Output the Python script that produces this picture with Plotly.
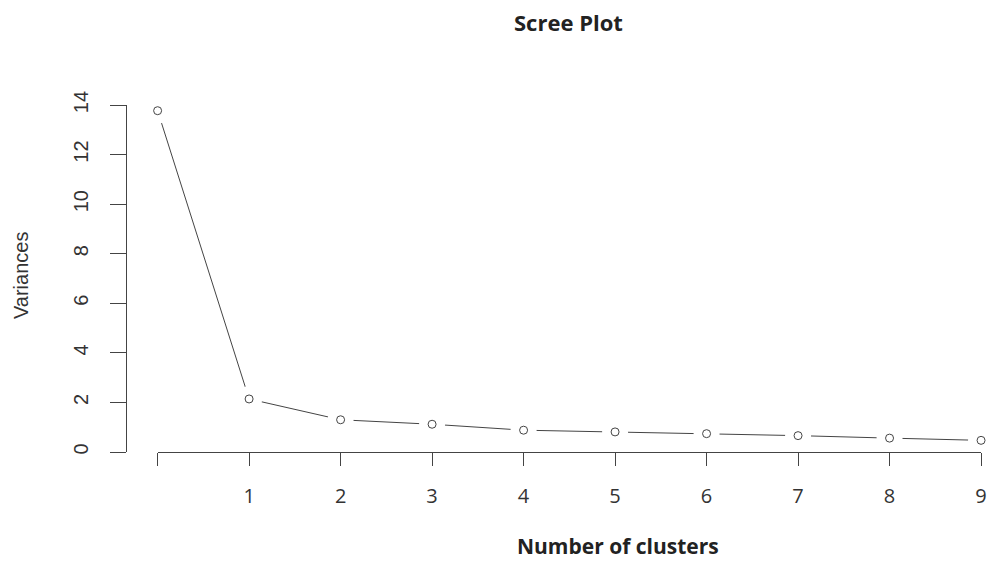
import plotly.graph_objects as go

# ---- data ----
components = [0, 1, 2, 3, 4, 5, 6, 7, 8, 9]
variances = [13.77, 2.14, 1.30, 1.12, 0.88, 0.81, 0.74, 0.66, 0.56, 0.47]
x_tick_labels = ["", "1", "2", "3", "4", "5", "6", "7", "8", "9"]
y_tick_values = [0, 2, 4, 6, 8, 10, 12, 14]

title_text = "Scree Plot"
x_title = "Number of clusters"
y_title = "Variances"

# ---- layout geometry (page pixels; the page body has an 8px margin) ----
BODY = 8
W, H = 1003 - 2 * BODY, 561 - BODY
LEFT, RIGHT, TOP, BOTTOM = 100, 994, 105, 452   # plot box in page pixels
ML = LEFT - BODY
MT = TOP - BODY
MR = W - (RIGHT - BODY)
MB = H - (BOTTOM - BODY)
PW = RIGHT - LEFT
PH = BOTTOM - TOP

def px_to_paper_x(px):
    return (px - LEFT) / PW

def px_to_paper_y(py):
    return (BOTTOM - py) / PH

line_col = "#444444"

fig = go.Figure()
fig.add_trace(go.Scatter(x=components, y=variances, mode="lines",
                         line=dict(color=line_col, width=1),
                         hoverinfo="skip", showlegend=False))
fig.add_trace(go.Scatter(x=components, y=variances, mode="markers",
                         marker=dict(symbol="circle", size=26, color="white",
                                     line=dict(width=0)),
                         cliponaxis=False, hoverinfo="skip", showlegend=False))
fig.add_trace(go.Scatter(x=components, y=variances, mode="markers",
                         marker=dict(symbol="circle", size=8, color="white",
                                     line=dict(color=line_col, width=1)),
                         cliponaxis=False, showlegend=False))

fig.update_layout(
    width=W, height=H,
    margin=dict(l=ML, r=MR, t=MT, b=MB, pad=0),
    paper_bgcolor="white", plot_bgcolor="white",
    showlegend=False,
    xaxis=dict(
        domain=[px_to_paper_x(158), px_to_paper_x(987)],
        range=[0, 9], tickvals=components, ticktext=x_tick_labels,
        showgrid=False, zeroline=False,
        showline=True, linecolor=line_col, linewidth=1,
        ticks="outside", ticklen=13, tickwidth=1, tickcolor=line_col,
        tickfont=dict(family="Open Sans", size=20, color="#333333"),
        ticklabelstandoff=13,
    ),
    yaxis=dict(
        anchor="free", position=px_to_paper_x(126),
        domain=[0, 1], range=[0, 14], tickvals=y_tick_values,
        showgrid=False, zeroline=False,
        showline=True, linecolor=line_col, linewidth=1,
        ticks="outside", ticklen=16, tickwidth=1, tickcolor=line_col,
        tickangle=-90,
        tickfont=dict(family="Liberation Sans", size=20, color="#333333"),
        ticklabelstandoff=14,
    ),
    annotations=[
        dict(text=title_text, xref="paper", yref="paper",
             x=px_to_paper_x(572), y=px_to_paper_y(21.5),
             xanchor="center", yanchor="middle", showarrow=False,
             font=dict(family="Open Sans", size=22, color="#222222", weight="bold")),
        dict(text=x_title, xref="paper", yref="paper",
             x=px_to_paper_x(622), y=px_to_paper_y(546),
             xanchor="center", yanchor="middle", showarrow=False,
             font=dict(family="Open Sans", size=21, color="#222222", weight="bold")),
        dict(text=y_title, xref="paper", yref="paper",
             x=px_to_paper_x(20), y=px_to_paper_y(275.5),
             xanchor="center", yanchor="middle", showarrow=False, textangle=-90,
             font=dict(family="Liberation Sans", size=20, color="#333333")),
    ],
)

fig.write_html("out.html")
